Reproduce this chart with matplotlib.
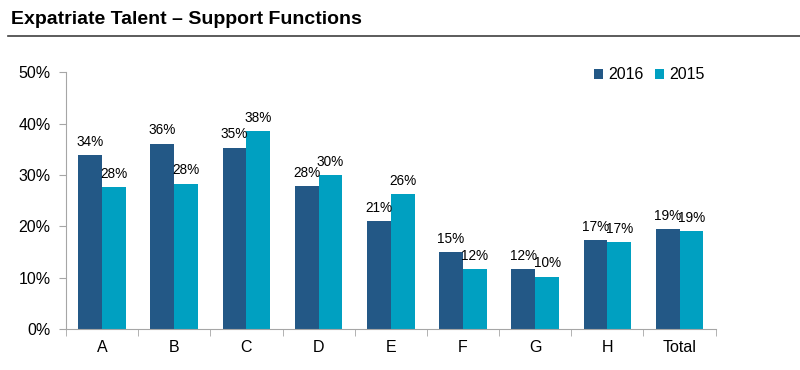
import matplotlib.pyplot as plt
import numpy as np
from matplotlib.lines import Line2D

plt.rcParams['font.family'] = ['Liberation Sans', 'DejaVu Sans']

categories = ['A', 'B', 'C', 'D', 'E', 'F', 'G', 'H', 'Total']
v2016 = [33.9, 36.1, 35.3, 27.8, 21.0, 14.9, 11.7, 17.3, 19.4]
v2015 = [27.6, 28.3, 38.5, 30.0, 26.3, 11.7, 10.2, 16.9, 19.1]
yticks = [0, 10, 20, 30, 40, 50]

c16 = '#235886'
c15 = '#00A0C1'
grey = '#A6A6A6'

fig = plt.figure(figsize=(8, 3.7), dpi=100)
ax = fig.add_axes([0.0825, 0.111, 0.812, 0.694])

x = np.arange(len(categories))
w = 0.33
b1 = ax.bar(x - w / 2, v2016, w, color=c16, label='2016')
b2 = ax.bar(x + w / 2, v2015, w, color=c15, label='2015')

# data labels
for bars, vals in ((b1, v2016), (b2, v2015)):
    for b, v in zip(bars, vals):
        ax.text(b.get_x() + b.get_width() / 2, v + 1.2, f'{round(v):d}%',
                ha='center', va='bottom', fontsize=9.8)

ax.set_xlim(-0.5, len(categories) - 0.5)
ax.set_ylim(0, 50)
ax.set_yticks(yticks)
ax.set_yticklabels([f'{t}%' for t in yticks], fontsize=11.5)
ax.set_xticks(x)
ax.set_xticklabels(categories, fontsize=11.5)
ax.tick_params(axis='x', length=0, pad=8)
ax.set_xticks(np.arange(len(categories) + 1) - 0.5, minor=True)
ax.tick_params(axis='x', which='minor', length=5, color=grey)
ax.tick_params(axis='y', length=5, color=grey, pad=6)

for s in ('top', 'right'):
    ax.spines[s].set_visible(False)
for s in ('left', 'bottom'):
    ax.spines[s].set_color(grey)

ax.legend(loc='upper right', bbox_to_anchor=(1.005, 1.075), ncol=2, frameon=False,
          fontsize=11.5, handlelength=0.6, handleheight=0.6, handletextpad=0.3,
          columnspacing=0.7)

fig.text(0.014, 0.935, 'Expatriate Talent \u2013 Support Functions',
         fontsize=14, fontweight='bold', va='baseline')
fig.add_artist(Line2D([0.01, 1.0], [0.902, 0.902], color='#404040', lw=1.2))

fig.savefig('out.png', dpi=100)
